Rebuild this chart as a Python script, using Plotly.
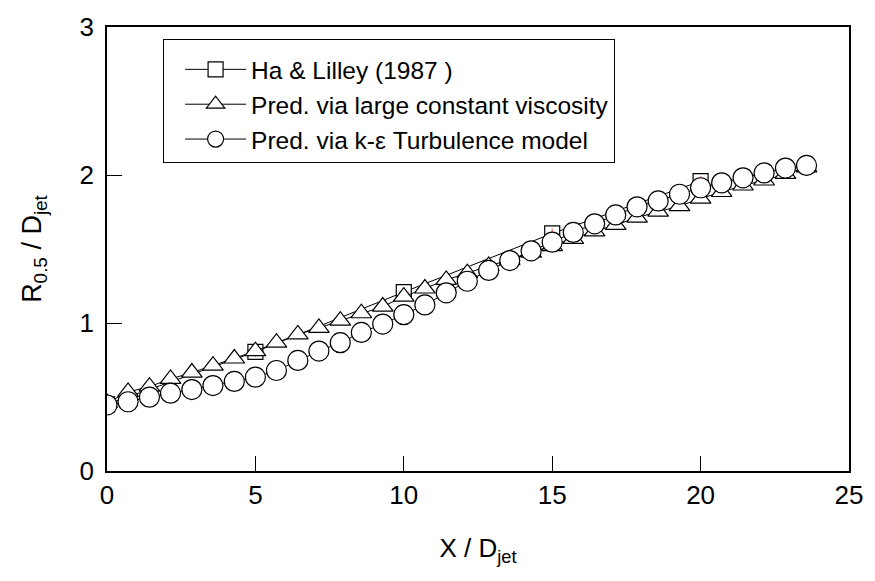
import plotly.graph_objects as go

# X / D_jet stations shared by both predictions
x_pred = [0.0, 0.71, 1.43, 2.14, 2.86, 3.57, 4.29, 5.0, 5.71, 6.43, 7.14, 7.86,
          8.57, 9.29, 10.0, 10.71, 11.43, 12.14, 12.86, 13.57, 14.29, 15.0, 15.71,
          16.43, 17.14, 17.86, 18.57, 19.29, 20.0, 20.71, 21.43, 22.14, 22.86, 23.57]

# Pred. via large constant viscosity (triangles)
y_const = [0.46, 0.534, 0.570, 0.622, 0.665, 0.712, 0.760, 0.810, 0.867, 0.923,
           0.967, 1.016, 1.066, 1.111, 1.178, 1.233, 1.291, 1.337, 1.386, 1.426,
           1.475, 1.519, 1.568, 1.619, 1.663, 1.712, 1.752, 1.790, 1.841, 1.885,
           1.929, 1.963, 2.007, 2.051]

# Pred. via k-eps turbulence model (circles)
y_keps = [0.446, 0.468, 0.499, 0.526, 0.550, 0.577, 0.605, 0.634, 0.679, 0.747,
          0.810, 0.867, 0.936, 0.993, 1.056, 1.122, 1.204, 1.282, 1.355, 1.422,
          1.488, 1.546, 1.612, 1.670, 1.730, 1.785, 1.825, 1.870, 1.914, 1.947,
          1.981, 2.014, 2.047, 2.065]

# Ha & Lilley (1987) experiment (squares)
x_exp = [0, 5, 10, 15, 20]
y_exp = [0.45, 0.805, 1.209, 1.605, 1.958]

names = ["Ha &amp; Lilley (1987 )",
         "Pred. via large constant viscosity",
         "Pred. via k-\u03b5 Turbulence model"]

FONT = "Liberation Sans, Arial, sans-serif"

fig = go.Figure()
fig.add_trace(go.Scatter(
    x=x_exp, y=y_exp, mode="lines+markers", name=names[0],
    line=dict(color="black", width=1),
    marker=dict(symbol="square", size=15, color="white",
                line=dict(color="black", width=1.2)),
))
fig.add_trace(go.Scatter(
    x=x_exp, y=y_exp, mode="markers", showlegend=False, hoverinfo="skip",
    marker=dict(symbol="cross-thin-open", size=7,
                line=dict(color="black", width=1)),
))
fig.add_trace(go.Scatter(
    x=x_pred, y=y_const, mode="lines+markers", name=names[1],
    line=dict(color="black", width=1),
    marker=dict(symbol="triangle-up", size=18, color="white",
                line=dict(color="black", width=1.2)),
))
fig.add_trace(go.Scatter(
    x=x_pred, y=y_keps, mode="lines+markers", name=names[2],
    line=dict(color="black", width=1),
    marker=dict(symbol="circle", size=20, color="white",
                line=dict(color="black", width=1.2)),
))

axis_common = dict(
    showline=True, linecolor="black", linewidth=1.5, mirror=True,
    ticks="inside", ticklen=15, tickwidth=1, tickcolor="black",
    showgrid=False, zeroline=False,
    tickfont=dict(family=FONT, size=26, color="black"),
)

fig.update_xaxes(range=[0, 25], tickvals=[0, 5, 10, 15, 20, 25],
                 title=dict(text="X / D<sub>jet</sub>",
                            font=dict(family=FONT, size=26, color="black"),
                            standoff=30),
                 **axis_common)
fig.update_yaxes(range=[0, 3], tickvals=[0, 1, 2, 3],
                 ticklabelstandoff=6,
                 title=dict(text="R<sub>0.5</sub> / D<sub>jet</sub>",
                            font=dict(family=FONT, size=27, color="black"),
                            standoff=30),
                 **axis_common)

fig.update_layout(
    width=875, height=581,
    margin=dict(l=107, r=21, t=20, b=110),
    plot_bgcolor="white", paper_bgcolor="white",
    font=dict(family=FONT, color="black"),
    legend=dict(
        x=0.0756, y=0.972, xanchor="left", yanchor="top",
        bgcolor="white", bordercolor="black", borderwidth=1,
        font=dict(family=FONT, size=24.5, color="black"),
        title=dict(text=" ", font=dict(family=FONT, size=5)),
        indentation=16, itemwidth=61, itemsizing="trace",
    ),
)

fig.write_html("out.html")
